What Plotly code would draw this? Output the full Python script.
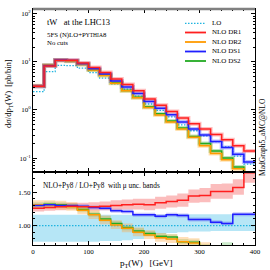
import plotly.graph_objects as go
from plotly.subplots import make_subplots

# ---------------- data ----------------
edges = list(range(0, 420, 20))  # pT(W) bin edges [GeV]

# top panel: dsigma/dpT [pb/bin]
lo  = [2.4, 6.3, 8.5, 8.4, 7.4, 6.0, 4.6, 3.5, 2.7, 1.95, 1.33, 0.98, 0.72, 0.49, 0.37, 0.29, 0.22, 0.17, 0.11, 0.075]
dr1 = [3.1, 8.2, 10.8, 10.8, 9.5, 7.6, 6.0, 4.4, 3.4, 2.5, 1.7, 1.25, 0.93, 0.68, 0.52, 0.40, 0.31, 0.24, 0.18, 0.14]
dr2 = [3.2, 8.6, 10.8, 10.3, 8.8, 6.8, 5.2, 3.6, 2.5, 1.8, 1.12, 0.79, 0.56, 0.40, 0.27, 0.18, 0.125, 0.092, 0.06, 0.045]
ds1 = [3.1, 8.4, 10.9, 10.7, 9.2, 7.2, 5.6, 4.0, 3.0, 2.2, 1.5, 1.08, 0.80, 0.56, 0.40, 0.30, 0.22, 0.165, 0.12, 0.083]
ds2 = [3.1, 8.4, 10.8, 10.4, 8.9, 6.9, 5.3, 3.7, 2.55, 1.85, 1.17, 0.83, 0.59, 0.42, 0.28, 0.20, 0.14, 0.10, 0.065, 0.048]

# bottom panel: ratio to LO and mu-uncertainty bands
r_lo    = [1.0] * 20
lo_up   = [1.16, 1.16, 1.16, 1.16, 1.16, 1.16, 1.16, 1.16, 1.16, 1.16, 1.16, 1.16, 1.17, 1.17, 1.17, 1.17, 1.17, 1.17, 1.17, 1.17]
lo_dn   = [0.76, 0.76, 0.76, 0.76, 0.76, 0.76, 0.77, 0.77, 0.78, 0.80, 0.84, 0.87, 0.89, 0.90, 0.91, 0.91, 0.92, 0.92, 0.92, 0.92]

r_dr1   = [1.26, 1.27, 1.28, 1.29, 1.28, 1.28, 1.29, 1.30, 1.31, 1.32, 1.31, 1.34, 1.36, 1.38, 1.44, 1.45, 1.51, 1.51, 1.57, 1.79]
dr1_up  = [1.31, 1.32, 1.33, 1.34, 1.34, 1.35, 1.36, 1.38, 1.39, 1.40, 1.40, 1.43, 1.45, 1.48, 1.54, 1.56, 1.62, 1.63, 1.69, 1.92]
dr1_dn  = [1.21, 1.22, 1.23, 1.24, 1.23, 1.22, 1.23, 1.23, 1.24, 1.24, 1.23, 1.25, 1.27, 1.28, 1.34, 1.35, 1.40, 1.40, 1.46, 1.64]

r_ds1   = [1.30, 1.31, 1.30, 1.30, 1.29, 1.27, 1.26, 1.22, 1.21, 1.16, 1.16, 1.14, 1.16, 1.15, 1.09, 1.09, 1.05, 1.03, 1.17, 1.17]
ds1_up  = [1.33, 1.34, 1.33, 1.33, 1.32, 1.30, 1.29, 1.25, 1.24, 1.19, 1.19, 1.17, 1.19, 1.18, 1.12, 1.12, 1.08, 1.06, 1.20, 1.20]
ds1_dn  = [1.27, 1.28, 1.27, 1.27, 1.26, 1.24, 1.23, 1.19, 1.18, 1.13, 1.13, 1.11, 1.13, 1.12, 1.06, 1.06, 1.02, 1.00, 1.14, 1.14]

r_ds2   = [1.31, 1.32, 1.31, 1.29, 1.24, 1.17, 1.10, 1.03, 0.97, 0.92, 0.88, 0.84, 0.83, 0.76, 0.75, 0.68, 0.67, 0.70, 0.62, 0.60]
ds2_up  = [1.35, 1.36, 1.35, 1.33, 1.28, 1.21, 1.14, 1.07, 1.01, 0.96, 0.92, 0.88, 0.87, 0.80, 0.79, 0.72, 0.71, 0.75, 0.66, 0.64]
ds2_dn  = [1.27, 1.28, 1.27, 1.25, 1.20, 1.13, 1.06, 0.99, 0.93, 0.88, 0.84, 0.80, 0.79, 0.72, 0.71, 0.64, 0.63, 0.65, 0.58, 0.56]

r_dr2   = [1.31, 1.31, 1.30, 1.28, 1.23, 1.16, 1.08, 1.01, 0.96, 0.90, 0.86, 0.82, 0.80, 0.76, 0.74, 0.68, 0.64, 0.62, 0.58, 0.55]
dr2_up  = [1.38, 1.38, 1.37, 1.35, 1.30, 1.23, 1.15, 1.08, 1.03, 0.97, 0.93, 0.89, 0.87, 0.83, 0.81, 0.75, 0.71, 0.69, 0.65, 0.62]
dr2_dn  = [1.25, 1.25, 1.24, 1.22, 1.17, 1.10, 1.02, 0.95, 0.90, 0.84, 0.80, 0.76, 0.74, 0.70, 0.68, 0.62, 0.58, 0.56, 0.52, 0.49]

names = ["LO", "NLO DR1", "NLO DR2", "NLO DS1", "NLO DS2"]
x_ticks = [0, 100, 200, 300, 400]
ytop_ticks = [0.1, 1, 10, 100]
ytop_text = ["10<sup>-1</sup>", "10<sup>0</sup>", "10<sup>1</sup>", "10<sup>2</sup>"]

# ---------------- style ----------------
FONT = "Liberation Serif, Times New Roman, DejaVu Serif, serif"
C_LO, C_DR1, C_DR2, C_DS1, C_DS2 = "#1fb4e0", "#ff1f1f", "#ff9a00", "#1f1fff", "#22aa22"
B_LO = "rgba(110,205,238,0.50)"
B_DR1 = "rgba(245,90,90,0.40)"
B_DR2 = "rgba(255,170,70,0.38)"
B_DS1 = "rgba(100,100,240,0.35)"
B_DS2 = "rgba(110,200,110,0.35)"
HALO = {C_DR1: "rgba(255,40,40,0.30)", C_DR2: "rgba(255,160,0,0.30)",
        C_DS1: "rgba(40,40,255,0.30)", C_DS2: "rgba(40,170,40,0.30)"}
DOT = "1.5px,1.5px"

L, R, T, B = 33, 15, 9, 25
W = H = 270
PW, PH = W - L - R, H - T - B
split = 73 / PH

def px(xp):
    return (xp - L) / PW

def py(yp):
    return (H - B - yp) / PH

def st(v):
    return list(v) + [v[-1]]

fig = make_subplots(rows=2, cols=1, shared_xaxes=True, vertical_spacing=0,
                    row_heights=[1 - split, split])

# ---- top panel ----
fig.add_trace(go.Scatter(x=edges, y=st(lo), mode="lines", line=dict(color=C_LO, width=1.3, dash=DOT, shape="hv"),
                         showlegend=False), row=1, col=1)
for vals, col in [(ds2, C_DS2), (dr2, C_DR2), (ds1, C_DS1), (dr1, C_DR1)]:
    fig.add_trace(go.Scatter(x=edges, y=st(vals), mode="lines", line=dict(color=HALO[col], width=4, shape="hv"),
                             showlegend=False, hoverinfo="skip"), row=1, col=1)
for vals, col in [(ds2, C_DS2), (dr2, C_DR2), (ds1, C_DS1), (dr1, C_DR1)]:
    fig.add_trace(go.Scatter(x=edges, y=st(vals), mode="lines", line=dict(color=col, width=1.5, shape="hv"),
                             showlegend=False), row=1, col=1)

# ---- bottom panel ----
def band(up, dn, fillc):
    fig.add_trace(go.Scatter(x=edges, y=st(dn), mode="lines", line=dict(width=0, shape="hv"),
                             showlegend=False, hoverinfo="skip"), row=2, col=1)
    fig.add_trace(go.Scatter(x=edges, y=st(up), mode="lines", line=dict(width=0, shape="hv"),
                             fill="tonexty", fillcolor=fillc, showlegend=False, hoverinfo="skip"), row=2, col=1)

band(lo_up, lo_dn, B_LO)
band(dr1_up, dr1_dn, B_DR1)
band(ds1_up, ds1_dn, B_DS1)
band(ds2_up, ds2_dn, B_DS2)
band(dr2_up, dr2_dn, B_DR2)

fig.add_trace(go.Scatter(x=edges, y=st(r_lo), mode="lines", line=dict(color=C_LO, width=1.3, dash=DOT, shape="hv"),
                         showlegend=False), row=2, col=1)
for vals, col in [(r_ds2, C_DS2), (r_dr2, C_DR2), (r_ds1, C_DS1), (r_dr1, C_DR1)]:
    fig.add_trace(go.Scatter(x=edges, y=st(vals), mode="lines", line=dict(color=col, width=1.5, shape="hv"),
                             showlegend=False), row=2, col=1)

# ---- axes ----
axcommon = dict(showline=True, linecolor="black", linewidth=1, mirror="allticks", ticks="inside",
                tickcolor="black", ticklen=4, tickwidth=0.8, showgrid=False, zeroline=False,
                tickfont=dict(family=FONT, size=7, color="black"))
fig.update_xaxes(range=[0, 400], tickvals=x_ticks, minor=dict(ticks="inside", ticklen=2, dtick=20, tickcolor="black"),
                 **axcommon)
fig.update_xaxes(showticklabels=False, row=1, col=1)
fig.update_yaxes(type="log", range=[-1.29, 2.1], tickvals=ytop_ticks, ticktext=ytop_text,
                 minor=dict(ticks="inside", ticklen=2, tickcolor="black",
                            tickvals=[m * 10 ** e for e in (-2, -1, 0, 1) for m in range(2, 10)]),
                 row=1, col=1, **axcommon)
fig.update_yaxes(range=[0.71, 1.8], tickvals=[1.0, 1.5], tickformat=".2f",
                 minor=dict(ticks="inside", ticklen=2, dtick=0.1, tickcolor="black"),
                 row=2, col=1, **axcommon)

# frame accents
fig.add_shape(type="line", xref="paper", yref="paper", x0=0, x1=1, y0=1, y1=1, line=dict(color="#808080", width=2.5))
fig.add_shape(type="line", xref="paper", yref="paper", x0=0, x1=1, y0=split, y1=split, line=dict(color="black", width=2))

# ---- legend (manual, compact) ----
leg_y = [23.3, 32.5, 42.0, 51.5, 61.0]
leg_c = [C_LO, C_DR1, C_DR2, C_DS1, C_DS2]
for nm, yy, cc in zip(names, leg_y, leg_c):
    fig.add_shape(type="line", xref="paper", yref="paper", x0=px(185), x1=px(206), y0=py(yy), y1=py(yy),
                  line=dict(color=cc, width=1.3 if nm == "LO" else 1.8, dash=DOT if nm == "LO" else "solid"))
    fig.add_annotation(xref="paper", yref="paper", x=px(210), y=py(yy), text=nm, showarrow=False,
                       xanchor="left", yanchor="middle", font=dict(family=FONT, size=7, color="black"))

# ---- text ----
def txt(x, y, s, size, **kw):
    fig.add_annotation(xref="paper", yref="paper", x=px(x), y=py(y), text=s, showarrow=False,
                       font=dict(family=FONT, size=size, color="black"), **kw)

nb = "\u00a0"
txt(45, 22.5, "tW" + nb * 3 + "at the LHC13", 8.5, xanchor="left", yanchor="middle")
txt(45, 34.5, "5FS (N)LO+P<span style='font-size:5.5px'>YTHIA</span>8", 6.8, xanchor="left", yanchor="middle")
txt(45, 43, "No cuts", 6.8, xanchor="left", yanchor="middle")
txt(41, 185, "NLO+Py8 / LO+Py8" + nb * 2 + "with μ unc. bands", 7.3, xanchor="left", yanchor="middle")
txt(146, 263, "p<sub>T</sub>(W)" + nb * 3 + "[GeV]", 9, xanchor="center", yanchor="middle")
txt(8, 94, "dσ/dp<sub>T</sub>(W)" + nb * 2 + "[pb/bin]", 8.5, xanchor="center", yanchor="middle", textangle=-90)
txt(262, 137, "MadGraph5_aMC@NLO", 7.5, xanchor="center", yanchor="middle", textangle=-90)

fig.update_layout(width=W, height=H, margin=dict(l=L, r=R, t=T, b=B), plot_bgcolor="white", paper_bgcolor="white",
                  showlegend=False, font=dict(family=FONT, color="black"))

fig.write_html("out.html", config={"displayModeBar": False},
               post_script="document.body.style.margin='0';document.body.style.overflow='hidden';")
